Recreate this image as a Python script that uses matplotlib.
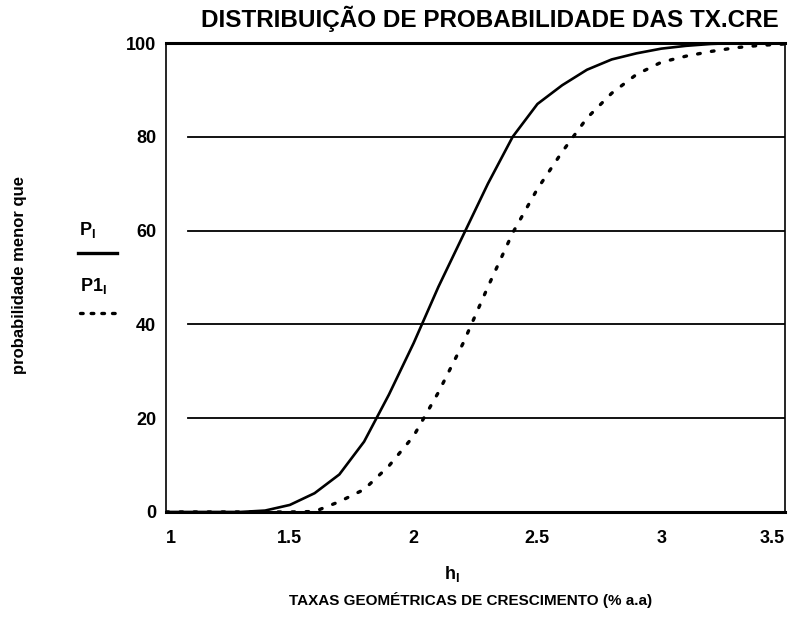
import matplotlib.pyplot as plt
from matplotlib.lines import Line2D

plt.rcParams['font.family'] = ['Liberation Sans', 'DejaVu Sans']
plt.rcParams['mathtext.fontset'] = 'custom'
plt.rcParams['mathtext.bf'] = 'Liberation Sans:bold'
plt.rcParams['mathtext.rm'] = 'Liberation Sans:bold'

# growth rate grid (% a.a) and cumulative probabilities (%)
h = [1.0, 1.1, 1.2, 1.3, 1.4, 1.5, 1.6, 1.7, 1.8, 1.9, 2.0, 2.1, 2.2,
     2.3, 2.4, 2.5, 2.6, 2.7, 2.8, 2.9, 3.0, 3.1, 3.2, 3.3, 3.4, 3.5]
P = [0, 0, 0, 0, 0.3, 1.5, 4, 8, 15, 25, 36, 48, 59,
     70, 80, 87, 91, 94.3, 96.5, 97.8, 98.8, 99.4, 99.8, 100, 100, 100]
P1 = [0, 0, 0, 0, 0, 0, 0.1, 2.2, 4.8, 9.8, 16.2, 25.5, 36,
      48, 59.5, 68.9, 76.8, 84, 89.3, 93.3, 95.9, 97.2, 98.2, 99, 99.5, 99.8]

xticks = [1, 1.5, 2, 2.5, 3, 3.5]
xtick_labels = ['1', '1.5', '2', '2.5', '3', '3.5']
yticks = [0, 20, 40, 60, 80, 100]

fig = plt.figure(figsize=(7.89, 6.19), dpi=100)
ax = fig.add_axes([0.2104, 0.1729, 0.7846, 0.7576])

for yv in yticks[1:-1]:
    ax.axhline(yv, xmin=0.035, xmax=1, color='black', lw=1.3, zorder=1)

ax.plot(h, P, color='black', lw=1.9, solid_joinstyle='round', zorder=3)
ax.plot(h, P1, color='black', lw=2.4, linestyle=(0, (0.8, 3.4)),
        dash_capstyle='round', zorder=3)

ax.set_xlim(1, 3.5)
ax.set_ylim(0, 100)
ax.set_xticks(xticks)
ax.set_xticklabels(xtick_labels, fontsize=13, fontweight='bold')
ax.set_yticks(yticks)
ax.set_yticklabels([str(v) for v in yticks], fontsize=13, fontweight='bold')
ax.tick_params(length=0, pad=13)
ax.tick_params(axis='y', pad=7)
labels = ax.get_xticklabels()
labels[0].set_horizontalalignment('left')
labels[-1].set_horizontalalignment('right')

for side, w in [('top', 2.2), ('bottom', 2.2), ('left', 1.2), ('right', 1.2)]:
    ax.spines[side].set_linewidth(w)
    ax.spines[side].set_color('black')

fig.text(0.621, 0.970, 'DISTRIBUIÇÃO DE PROBABILIDADE DAS TX.CRE',
         ha='center', va='center', fontsize=17.5, fontweight='bold')
fig.text(0.573, 0.072, r'$\mathbf{h_I}$', ha='center', va='center', fontsize=13)
fig.text(0.596, 0.031, 'TAXAS GEOMÉTRICAS DE CRESCIMENTO (% a.a)',
         ha='center', va='center', fontsize=11, fontweight='bold')
fig.text(0.025, 0.555, 'probabilidade menor que', rotation=90,
         ha='center', va='center', fontsize=12, fontweight='bold')

# legend drawn beside the y axis
fig.text(0.100, 0.628, r'$\mathbf{P_I}$', ha='left', va='center', fontsize=13)
fig.add_artist(Line2D([0.099, 0.148], [0.591, 0.591], color='black', lw=2.4,
                      transform=fig.transFigure))
fig.text(0.101, 0.538, r'$\mathbf{P1_I}$', ha='left', va='center', fontsize=13)
fig.add_artist(Line2D([0.101, 0.146], [0.494, 0.494], color='black', lw=2.4,
                      linestyle=(0, (0.8, 2.4)), dash_capstyle='round',
                      transform=fig.transFigure))

fig.savefig('out.png', dpi=100)
